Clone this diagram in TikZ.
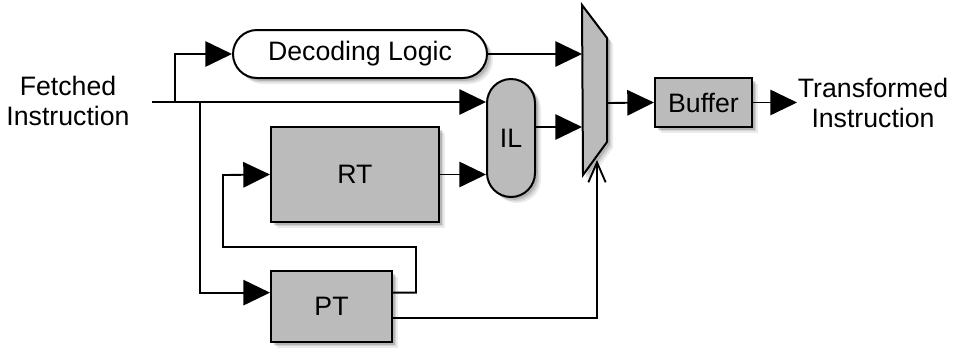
\documentclass[tikz,border=0pt]{standalone}
\usepackage{fontspec}
\setmainfont{Liberation Sans}
\usetikzlibrary{arrows.meta,shadows,calc}

\definecolor{blockfill}{HTML}{BBBBBB}

\tikzset{
  % layered offsets give a soft-edged shadow
  softshadow/.style={
    drop shadow={shadow xshift=4.5pt,shadow yshift=-4.5pt,fill=black,opacity=0.08},
    drop shadow={shadow xshift=3.3pt,shadow yshift=-3.3pt,fill=black,opacity=0.10},
    drop shadow={shadow xshift=2.1pt,shadow yshift=-2.1pt,fill=black,opacity=0.14}},
  block/.style={draw=black,line width=1.5pt,fill=blockfill,softshadow,inner sep=0pt,
    font=\fontsize{20}{23}\selectfont},
  pill/.style={block,rounded corners=18pt},
  textlabel/.style={align=center,font=\fontsize{20}{23}\selectfont,inner sep=0pt},
  bigtip/.tip={Triangle[length=20pt,width=19pt,fill=black]},
  opentip/.tip={Straight Barb[length=15pt,width=13pt,line width=1.4pt]},
  wire/.style={line width=1.4pt,draw=black,arrows={-bigtip}},
  selwire/.style={line width=1.4pt,draw=black,arrows={-opentip}},
}

\begin{document}
\begin{tikzpicture}[x=0.75pt,y=-0.75pt]
  \useasboundingbox (0,0) rectangle (956,351);

  % text labels at both ends
  \node[textlabel] (fetched) at (68,101) {Fetched\\Instruction};
  \node[textlabel] (transformed) at (873,103) {Transformed\\Instruction};

  % functional blocks
  \node[pill,fill=white,minimum width=190.5pt,minimum height=36pt] (dec) at (360,54) {Decoding Logic};
  \node[pill,minimum width=36pt,minimum height=88.5pt] (il) at (511,138) {IL};
  \node[block,minimum width=126pt,minimum height=71.25pt] (rt) at (355,174.5) {RT};
  \node[block,minimum width=90.75pt,minimum height=53.25pt] (pt) at (331.5,306.5) {PT};
  \node[block,minimum width=72.75pt,minimum height=36.75pt] (buf) at (703.5,102.5) {Buffer};

  % multiplexer
  \draw[line width=1.5pt,fill=blockfill,softshadow,line join=miter]
    (582,5) -- (607,38) -- (607,142) -- (583,175) -- cycle;
  \coordinate (muxA) at (582,54);
  \coordinate (muxB) at (582,127);
  \coordinate (muxOut) at (607,103);
  \coordinate (muxSel) at (597,160);

  % input distribution
  \coordinate (in) at (152,102);
  \coordinate (tapDec) at (175,102);
  \coordinate (tapPT) at (200,102);
  \coordinate (ptIn) at ($(pt.north west)!0.31!(pt.south west)$);
  \coordinate (ptOutA) at ($(pt.north east)!0.31!(pt.south east)$);
  \coordinate (ptOutB) at ($(pt.north east)!0.66!(pt.south east)$);

  \draw[wire] (in) -- (in -| il.west);
  \draw[wire] (tapDec) |- (dec.west);
  \draw[wire] (tapPT) |- (ptIn);

  % PT feedback into RT
  \draw[wire] (ptOutA) -| (416,247) -| (223,175) -- (rt.west);

  % PT select line into the multiplexer
  \draw[selwire] (ptOutB) -| (muxSel);

  % RT and IL
  \draw[wire] (rt.east) -- (rt.east -| il.west);
  \draw[wire] (il.east |- muxB) -- (muxB);

  % decoder into multiplexer
  \draw[wire] (dec.east) -- (muxA);

  % output path
  \draw[wire] (muxOut) -- (buf.west);
  \draw[wire] (buf.east) -- (797,102.5);
\end{tikzpicture}
\end{document}
